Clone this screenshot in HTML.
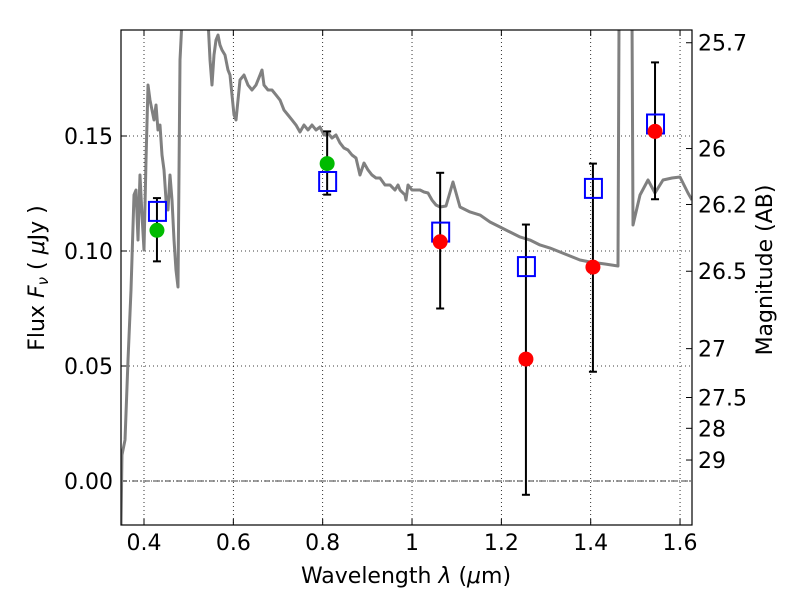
<!DOCTYPE html>
<html><head><meta charset="utf-8"><style>
body{margin:0;background:#fff;}
svg text{font-family:"DejaVu Sans","Liberation Sans",sans-serif;}
</style></head><body>
<svg id="chart" width="800" height="600" xmlns="http://www.w3.org/2000/svg"></svg>
<script>
const xTicks=[0.4,0.6,0.8,1.0,1.2,1.4,1.6];
const xTickLabels=["0.4","0.6","0.8","1","1.2","1.4","1.6"];
const yTicks=[0,0.05,0.10,0.15];
const yTickLabels=["0.00","0.05","0.10","0.15"];
const magTicks=[25.7,26,26.2,26.5,27,27.5,28,29];
const magLabels=["25.7","26","26.2","26.5","27","27.5","28","29"];
const obsLambda=[0.429,0.81,1.063,1.255,1.405,1.544];
const modelFlux=[0.117,0.130,0.108,0.093,0.127,0.155];
const obsFlux=[0.109,0.138,0.104,0.053,0.093,0.152];
const errLow=[0.0955,0.1245,0.0750,-0.0060,0.0475,0.1225];
const errHigh=[0.1230,0.1520,0.1340,0.1115,0.1380,0.1820];
const obsColor=["#00bb00","#00bb00","red","red","red","red"];
const sedPx=[[121,525],[122,455],[125,440],[128,360],[131,290],[134,195],[136,190],[138,240],[140,175],[142,215],[144,250],[146,160],[148,85],[150,100],[152,110],[154,120],[156,105],[158,130],[160,125],[162,155],[164,170],[166,200],[168,210],[170,175],[172,200],[174,240],[176,270],[178,287],[180,60],[182,20],[208,20],[210,60],[212,85],[214,55],[216,40],[218,35],[220,45],[222,50],[225,55],[228,70],[230,75],[232,95],[234,115],[236,120],[240,80],[244,75],[248,85],[252,90],[256,85],[260,75],[262,70],[264,85],[268,90],[272,90],[276,95],[280,100],[284,110],[288,115],[292,120],[296,125],[300,132],[304,125],[308,130],[312,125],[316,130],[320,127],[324,135],[328,133],[332,138],[336,135],[340,143],[344,148],[348,150],[352,155],[356,158],[360,175],[364,163],[368,170],[372,175],[376,178],[380,178],[385,185],[390,185],[395,190],[398,185],[400,190],[405,195],[406,200],[408,185],[412,190],[416,190],[420,190],[424,192],[428,193],[432,200],[436,205],[440,207],[446,206],[453,182],[460,207],[470,212],[480,215],[490,222],[500,227],[510,232],[520,237],[530,240],[540,245],[550,248],[560,252],[570,256],[580,260],[590,262],[605,264],[618,266],[619,20],[632,20],[633,225],[640,195],[648,180],[655,193],[663,180],[672,178],[680,177],[688,193],[692,200]];
const sedLambda=sedPx.map(p=>+(0.4+(p[0]-144)/446.7).toFixed(4));
const sedFlux=sedPx.map(p=>+((481-p[1])/2300).toFixed(5));

const L=121,R=692,T=30,B=525;
const X=v=>144+(v-0.4)*446.7;
const Y=v=>481-v*2300;
const svg=document.getElementById('chart');
const NS="http://www.w3.org/2000/svg";
function mk(tag,attrs,parent){const e=document.createElementNS(NS,tag);for(const k in attrs)e.setAttribute(k,attrs[k]);(parent||svg).appendChild(e);return e;}
const defs=mk('defs',{});const cp=mk('clipPath',{id:'c'},defs);mk('rect',{x:L,y:T,width:R-L,height:B-T},cp);
const grid=mk('g',{});


xTicks.forEach((v,i)=>{
 const g=mk('line',{x1:X(v),x2:X(v),y1:T,y2:B,stroke:'#000','stroke-width':0.8,'stroke-dasharray':'1,3'},grid);
 
 
 mk('line',{x1:X(v),x2:X(v),y1:B,y2:B-6,stroke:'#000'});
 mk('line',{x1:X(v),x2:X(v),y1:T,y2:T+6,stroke:'#000'});
 const t=mk('text',{x:X(v),y:B+25,'font-size':22,'text-anchor':'middle'});t.textContent=xTickLabels[i];
 
 
});
yTicks.forEach((v,i)=>{
 const g=mk('line',{x1:L,x2:R,y1:Y(v),y2:Y(v),stroke:'#000','stroke-width':0.8,'stroke-dasharray':'1,3'},grid);
 
 
 mk('line',{x1:L,x2:L+6,y1:Y(v),y2:Y(v),stroke:'#000'});
 const t=mk('text',{x:L-8,y:Y(v)+8,'font-size':22,'text-anchor':'end'});t.textContent=yTickLabels[i];
 
 
});
const zl=mk('line',{x1:L,x2:R,y1:Y(0),y2:Y(0),stroke:'#000','stroke-width':0.8,'stroke-dasharray':'6,2,1,2'});


magTicks.forEach((m,i)=>{
 const f=Math.pow(10,(23.9-m)/2.5);const y=Y(f);
 mk('line',{x1:R,x2:R-6,y1:y,y2:y,stroke:'#000'});
 const t=mk('text',{x:R+6,y:y+8,'font-size':22});t.textContent=magLabels[i];
 
 
});
const sed=mk('polyline',{points:sedLambda.map((l,i)=>X(l)+','+Y(sedFlux[i])).join(' '),fill:'none',stroke:'#808080','stroke-width':3,'stroke-linejoin':'round','clip-path':'url(#c)'});


obsLambda.forEach((l,i)=>{
 const x=X(l);
 const e=mk('g',{stroke:'#000','stroke-width':2});
 
 
 mk('line',{x1:x,x2:x,y1:Y(errLow[i]),y2:Y(errHigh[i])},e);
 mk('line',{x1:x-4,x2:x+4,y1:Y(errLow[i]),y2:Y(errLow[i])},e);
 mk('line',{x1:x-4,x2:x+4,y1:Y(errHigh[i]),y2:Y(errHigh[i])},e);
 const s=mk('rect',{x:x-8,y:Y(modelFlux[i])-10,width:17,height:19,fill:'none',stroke:'#0000ff','stroke-width':2});
 
 
 const c=mk('circle',{cx:x,cy:Y(obsFlux[i]),r:7.5,fill:obsColor[i]});
 
 
});
const fr=mk('rect',{x:L,y:T,width:R-L,height:B-T,fill:'none',stroke:'#000','stroke-width':1.2});


const xt=mk('text',{x:406,y:583,'font-size':22,'text-anchor':'middle'});
xt.innerHTML='Wavelength  <tspan font-style="italic">λ</tspan> (<tspan font-style="italic">μ</tspan>m)';
xt.setAttribute('xml:space','preserve');


const yt=mk('text',{x:0,y:0,'font-size':22,'text-anchor':'middle',transform:'translate(44,278) rotate(-90)'});
yt.setAttribute('xml:space','preserve');
yt.innerHTML='Flux  <tspan font-style="italic">F</tspan><tspan font-style="italic" font-size="15" dy="4">ν</tspan><tspan dy="-4">  (  </tspan><tspan font-style="italic">μ</tspan>Jy )';


const rt=mk('text',{x:0,y:0,'font-size':22,'text-anchor':'middle',transform:'translate(772,270) rotate(-90)'});
rt.textContent='Magnitude (AB)';


</script>
</body></html>
